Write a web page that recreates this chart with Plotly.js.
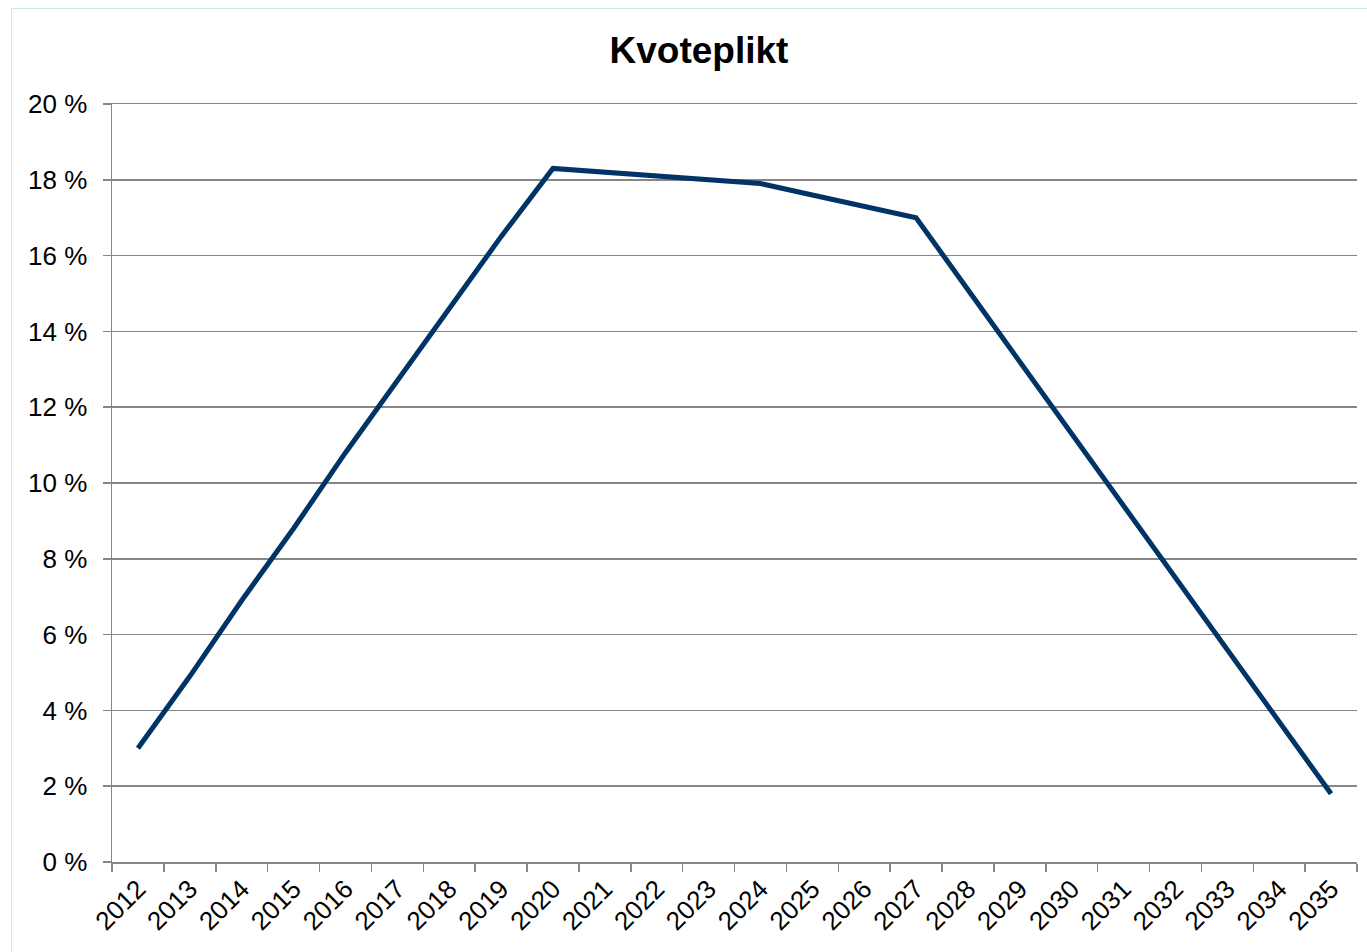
<!DOCTYPE html>
<html>
<head>
<meta charset="utf-8">
<script src="https://cdn.plot.ly/plotly-3.0.1.min.js"></script>
<style>
  html, body { margin: 0; padding: 0; overflow: hidden; background: #ffffff; }
  #chart { width: 1367px; height: 952px; position: absolute; left: 0; top: 0; }
  #frame { position: absolute; left: 11px; top: 8px; width: 1400px; height: 1000px;
           border: 1px solid #cfe6ee; pointer-events: none; }
</style>
</head>
<body>
<div id="chart"></div>
<div id="frame"></div>
<script>
const years = ['2012','2013','2014','2015','2016','2017','2018','2019','2020','2021','2022','2023',
               '2024','2025','2026','2027','2028','2029','2030','2031','2032','2033','2034','2035'];
const kvoteplikt = [3.0, 4.9, 6.9, 8.8, 10.8, 12.7, 14.6, 16.5, 18.3, 18.2, 18.1, 18.0,
                    17.9, 17.6, 17.3, 17.0, 15.1, 13.2, 11.3, 9.4, 7.5, 5.6, 3.7, 1.8];
const titleText = 'Kvoteplikt';

const grey = '#868686';
const fontFam = '"Liberation Sans", Arial, sans-serif';

const trace = {
  x: years,
  y: kvoteplikt,
  type: 'scatter',
  mode: 'lines',
  line: { color: '#003366', width: 5 },
  hoverinfo: 'x+y'
};

const layout = {
  width: 1367,
  height: 952,
  margin: { l: 112, r: 10, t: 104, b: 90 },
  paper_bgcolor: 'rgba(0,0,0,0)',
  plot_bgcolor: '#ffffff',
  showlegend: false,
  font: { family: fontFam, size: 26, color: '#000000' },
  title: {
    text: titleText,
    font: { family: fontFam, size: 37, color: '#000000', weight: 'bold' },
    xref: 'container', x: 699 / 1367, xanchor: 'center',
    yref: 'container', y: 1 - 50 / 952, yanchor: 'middle'
  },
  xaxis: {
    type: 'category',
    range: [-0.5, 23.5],
    showgrid: false,
    zeroline: false,
    showline: true,
    mirror: true,
    linecolor: grey,
    linewidth: 1.5,
    ticks: 'outside',
    tickson: 'boundaries',
    ticklen: 8,
    tickwidth: 1.5,
    tickcolor: grey,
    tickangle: -45,
    tickfont: { family: fontFam, size: 26, color: '#000000' },
    fixedrange: true
  },
  yaxis: {
    range: [0, 20],
    dtick: 2,
    tick0: 0,
    ticksuffix: ' %',
    showgrid: true,
    gridcolor: grey,
    gridwidth: 1.5,
    zeroline: false,
    showline: true,
    linecolor: grey,
    linewidth: 1.5,
    ticks: 'outside',
    ticklen: 8,
    tickwidth: 1.5,
    tickcolor: grey,
    ticklabelstandoff: 10,
    tickfont: { family: fontFam, size: 26, color: '#000000' },
    fixedrange: true
  }
};

Plotly.newPlot('chart', [trace], layout, { displayModeBar: false, staticPlot: true });
</script>
</body>
</html>
